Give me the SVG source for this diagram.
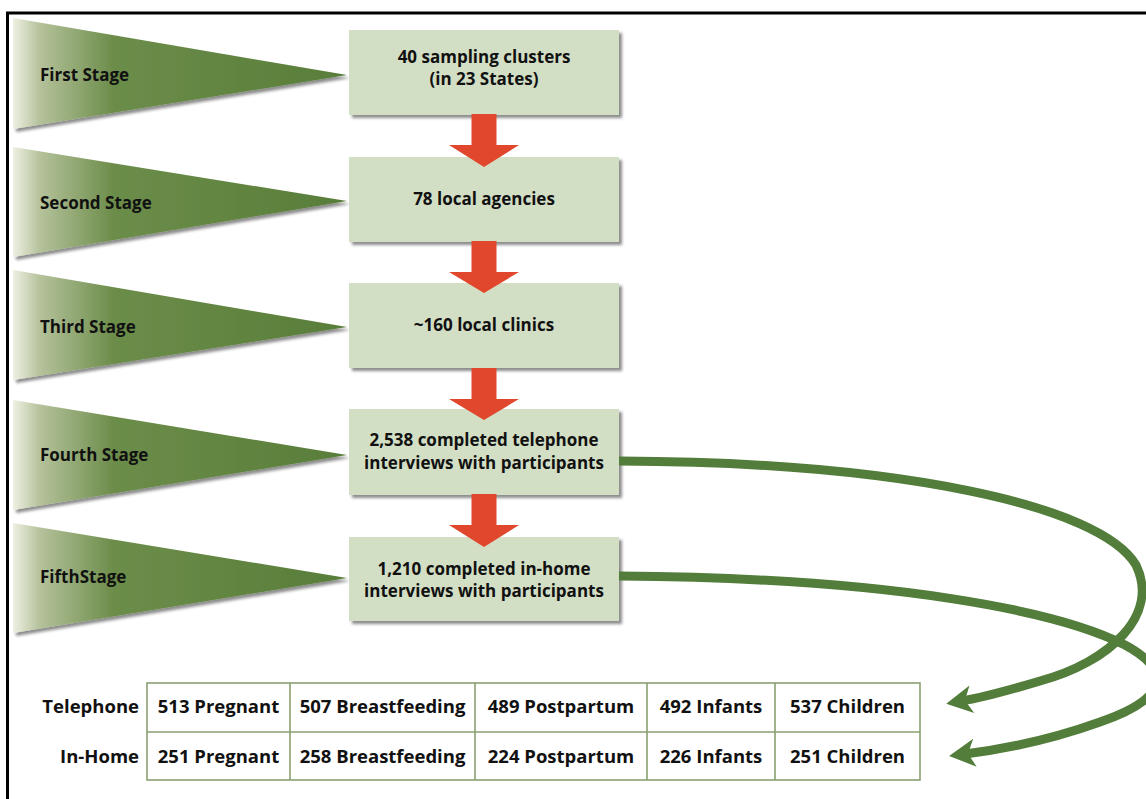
<svg xmlns="http://www.w3.org/2000/svg" width="1146" height="799" viewBox="0 0 1146 799">
<style>
text{font-family:"Open Sans","Liberation Sans",sans-serif;font-weight:700;fill:#111}
.lbl{font-size:17px}
.box{fill:#d3dfc5;filter:url(#sh)}
.btx{font-size:17px;text-anchor:middle}
.tri{fill:url(#g)}
.tbl{fill:none;stroke:#8aa070;stroke-width:1.6}
.ttx{font-size:18.5px;text-anchor:middle}
.rl{font-size:18.5px;text-anchor:end}
.red{fill:#e1472c}
.gc{fill:none;stroke:#527d3a;stroke-width:9;marker-end:url(#ah)}
</style>
<defs>
<linearGradient id="g" x1="0" y1="0" x2="1" y2="0">
<stop offset="0" stop-color="#eef0e2"/>
<stop offset="0.08" stop-color="#b5c29b"/>
<stop offset="0.3" stop-color="#6c8d4a"/>
<stop offset="1" stop-color="#587d39"/>
</linearGradient>
<filter id="sh" x="-10%" y="-10%" width="125%" height="130%">
<feDropShadow dx="3" dy="3" stdDeviation="1.8" flood-color="#000" flood-opacity="0.45"/>
</filter>
<marker id="ah" markerUnits="userSpaceOnUse" viewBox="-12 -16 30 32" refX="0" refY="0" markerWidth="30" markerHeight="32" orient="auto">
<path d="M16 0 L-10 -14 L-3 0 L-10 14 Z" fill="#527d3a"/>
</marker>
</defs>
<rect x="7.5" y="13" width="1300" height="900" fill="#fff" stroke="#000" stroke-width="3"/>

<g id="stage1"><polygon class="tri" filter="url(#sh)" points="13,18 347,75 13,129"/><text class="lbl" x="40" y="81">First Stage</text></g>
<g id="stage2"><polygon class="tri" filter="url(#sh)" points="13,147 347,201 13,257"/><text class="lbl" x="40" y="209">Second Stage</text></g>
<g id="stage3"><polygon class="tri" filter="url(#sh)" points="13,270 347,327 13,380"/><text class="lbl" x="40" y="333">Third Stage</text></g>
<g id="stage4"><polygon class="tri" filter="url(#sh)" points="13,400 347,455 13,510"/><text class="lbl" x="40" y="461">Fourth Stage</text></g>
<g id="stage5"><polygon class="tri" filter="url(#sh)" points="13,523 347,578 13,633"/><text class="lbl" x="40" y="583">FifthStage</text></g>

<g id="box1"><rect class="box" x="349" y="30" width="270" height="85"/><text class="btx" x="484" y="63">40 sampling clusters</text><text class="btx" x="484" y="85">(in 23 States)</text></g>
<g id="box2"><rect class="box" x="349" y="157" width="270" height="85"/><text class="btx" x="484" y="205">78 local agencies</text></g>
<g id="box3"><rect class="box" x="349" y="283" width="270" height="85"/><text class="btx" x="484" y="331">~160 local clinics</text></g>
<g id="box4"><rect class="box" x="349" y="409" width="270" height="86"/><text class="btx" x="484" y="446">2,538 completed telephone</text><text class="btx" x="484" y="469">interviews with participants</text></g>
<g id="box5"><rect class="box" x="349" y="537" width="270" height="84"/><text class="btx" x="484" y="575">1,210 completed in-home</text><text class="btx" x="484" y="597">interviews with participants</text></g>

<g id="table">
<rect class="tbl" x="147" y="683" width="773" height="97" fill="#fff"/>
<path class="tbl" d="M147 732H920M290 683V780M475 683V780M647 683V780M775 683V780"/>
<text class="rl" x="139" y="713">Telephone</text>
<text class="rl" x="139" y="763">In-Home</text>
<text class="ttx" x="218.5" y="713">513 Pregnant</text>
<text class="ttx" x="382.5" y="713">507 Breastfeeding</text>
<text class="ttx" x="561" y="713">489 Postpartum</text>
<text class="ttx" x="711" y="713">492 Infants</text>
<text class="ttx" x="847.5" y="713">537 Children</text>
<text class="ttx" x="218.5" y="763">251 Pregnant</text>
<text class="ttx" x="382.5" y="763">258 Breastfeeding</text>
<text class="ttx" x="561" y="763">224 Postpartum</text>
<text class="ttx" x="711" y="763">226 Infants</text>
<text class="ttx" x="847.5" y="763">251 Children</text>
</g>

<g id="connectors">
<path class="red" d="M471.5 114H496.5V145H519L484 167L449 145H471.5Z"/>
<path class="red" d="M471.5 241H496.5V272H519L484 293L449 272H471.5Z"/>
<path class="red" d="M471.5 368H496.5V399H519L484 420L449 399H471.5Z"/>
<path class="red" d="M471.5 494H496.5V525H519L484 547L449 525H471.5Z"/>
<path class="gc" d="M619 461 C900 462 1100 505 1136 565 C1160 615 1110 662 1040 681 C1010 690 985 697 962 701"/>
<path class="gc" d="M619 576 C900 578 1060 612 1125 645 C1175 672 1165 700 1100 722 C1050 740 1005 749 965 754"/>
</g>
</svg>
